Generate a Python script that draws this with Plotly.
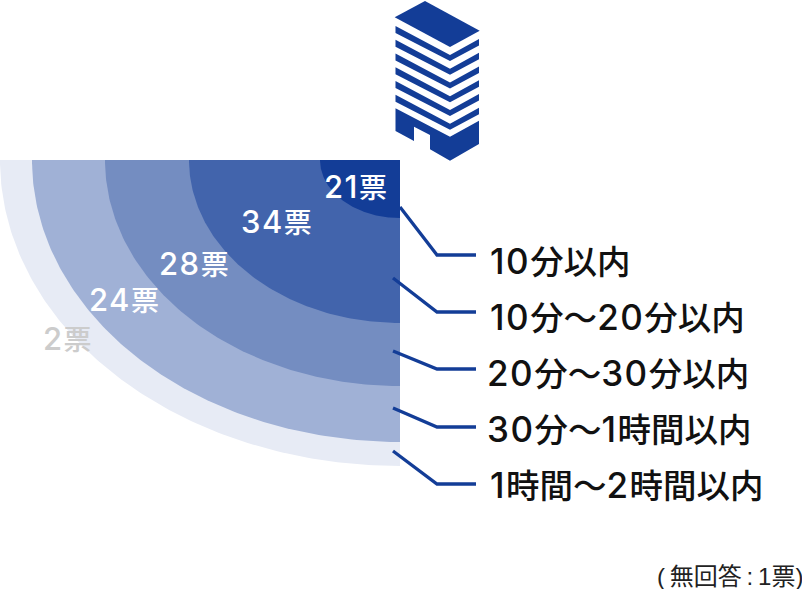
import re
import numpy as np
import plotly.graph_objects as go

categories = ["10分以内", "10分〜20分以内", "20分〜30分以内", "30分〜1時間以内", "1時間〜2時間以内"]
votes = [21, 34, 28, 24, 2]
band_rx = [80, 211, 295, 368, 400]
band_ry = [58, 163, 226, 282, 306]
band_colors = ["#133d97", "#4264ac", "#748dc1", "#a0b1d6", "#e7ebf5"]
vote_label_colors = ["#ffffff", "#ffffff", "#ffffff", "#ffffff", "#cccccc"]
vote_label_x = [355, 276, 194, 124, 67]
vote_label_y = [186, 221, 263, 299, 338]
legend_y = [255, 312, 369, 427, 484]
legend_text_x = [488, 488, 485, 485, 488]
legend_text_y = [259, 315, 371, 427, 483]
leader_start_x = [400, 393, 393, 393, 393]
leader_start_y = [207, 278, 351, 408, 451]
note = "(\u2009無回答\u2009:\u20091票)"

CX, CY = 400, 160
FONT = "Noto Sans CJK JP"


def wide_digits(text, size, spacing):
    return re.sub(r"(\d+)", rf'<span style="font-family:Inter;font-size:{size}px;letter-spacing:{spacing}px">\1</span>', text)


fig = go.Figure()

t = np.linspace(0, np.pi / 2, 121)
for i in reversed(range(len(votes))):
    x = np.r_[CX, CX - band_rx[i] * np.cos(t)]
    y = np.r_[CY, CY + band_ry[i] * np.sin(t)]
    fig.add_trace(go.Scatter(x=x, y=y, mode="lines", fill="toself", fillcolor=band_colors[i],
                             line=dict(width=0), hoverinfo="skip", showlegend=False))

for i in range(len(votes)):
    fig.add_trace(go.Scatter(x=[leader_start_x[i], 437, 476], y=[leader_start_y[i], legend_y[i], legend_y[i]],
                             mode="lines", line=dict(color="#133d97", width=3.3),
                             hoverinfo="skip", showlegend=False))
    fig.add_annotation(x=vote_label_x[i], y=vote_label_y[i], text=wide_digits(f"{votes[i]}票", 31, 1.5), showarrow=False,
                       font=dict(family=FONT, size=28, color=vote_label_colors[i], weight=500))
    fig.add_annotation(x=legend_text_x[i], y=legend_text_y[i], text=wide_digits(categories[i], 35, 1.5),
                       showarrow=False, xanchor="left",
                       font=dict(family=FONT, size=33.5, color="#111111", weight=500))

fig.add_annotation(x=655, y=576, text=note, showarrow=False, xanchor="left",
                   font=dict(family="Liberation Sans, " + FONT, size=24, color="#222222"))

# building icon
BLUE = "#133d97"
shapes = [dict(type="path", path="M394.7 17.3 L425 1 L479.7 30.7 L450 47 Z", fillcolor=BLUE, line_width=0)]
for k in range(6):
    d = 13.75 * k
    shapes.append(dict(type="path",
                       path=f"M395.5 {26+d} L450 {55+d} L479 {39+d} L479 {45.5+d} L450 {61+d} L395.5 {33+d} Z",
                       fillcolor=BLUE, line_width=0))
shapes.append(dict(type="path",
                   path="M395.5 108.3 L450 136.7 L479 120.7 L479 144 L450 160.7 L430 149.3 L430 135 L414 126.7 L414 141 L395.5 131 Z",
                   fillcolor=BLUE, line_width=0))

fig.update_layout(width=802, height=589, autosize=False, margin=dict(l=0, r=0, t=0, b=0),
                  paper_bgcolor="white", plot_bgcolor="white", shapes=shapes,
                  xaxis=dict(range=[0, 802], visible=False, fixedrange=True),
                  yaxis=dict(range=[589, 0], visible=False, fixedrange=True))
fig.write_html("out.html", config=dict(displayModeBar=False, responsive=False),
               post_script="document.body.style.margin='0';document.documentElement.style.overflow='hidden';")
